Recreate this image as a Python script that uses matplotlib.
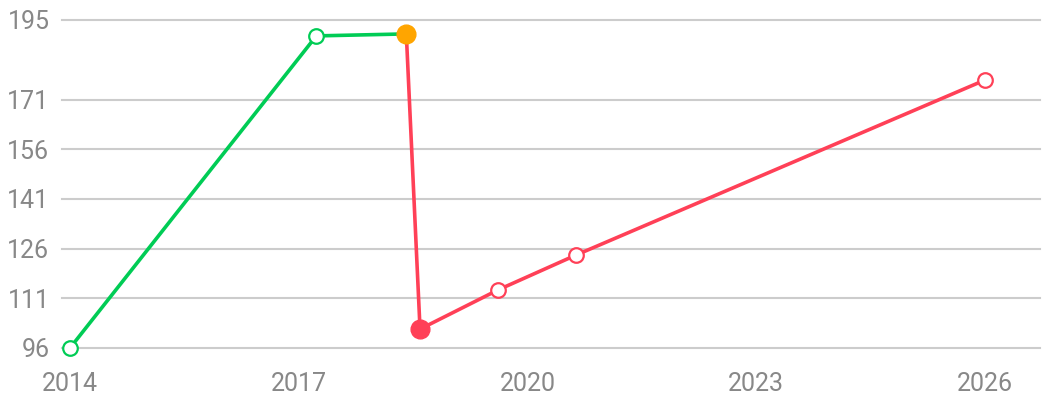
import matplotlib
matplotlib.use('Agg')
import matplotlib.pyplot as plt

plt.rcParams['font.family'] = ['Roboto', 'DejaVu Sans']

# ── Data (decimal years) ──
green_x = [2014.0, 2017.23, 2018.41]
green_y = [96, 190.2, 190.8]
red_x = [2018.41, 2018.59, 2019.61, 2020.64, 2026.0]
red_y = [190.8, 101.7, 113.5, 124.1, 176.9]

x_ticks = [2014, 2017, 2020, 2023, 2026]
y_ticks = [96, 111, 126, 141, 156, 171, 195]

GREEN = '#00cc55'
RED = '#ff4057'
ORANGE = '#ffa500'
GRID = '#cccccc'
TEXT = '#888888'

fig = plt.figure(figsize=(10.42, 4.0), dpi=100)
ax = fig.add_axes([0.0595, 0.13, 0.9386, 0.82])

for yv in y_ticks:
    ax.axhline(yv, color=GRID, lw=1.5, zorder=1)

ax.plot(red_x, red_y, color=RED, lw=2.6, zorder=3, solid_capstyle='round')
ax.plot(green_x, green_y, color=GREEN, lw=2.6, zorder=3, solid_capstyle='round')

# open markers
ax.plot(green_x[:2], green_y[:2], 'o', ms=10.5, mfc='white', mec=GREEN, mew=1.6, zorder=4)
ax.plot(red_x[2:], red_y[2:], 'o', ms=10.5, mfc='white', mec=RED, mew=1.6, zorder=4)
# highlighted markers
ax.plot(red_x[1], red_y[1], 'o', ms=13.5, color=RED, zorder=5)
ax.plot(green_x[2], green_y[2], 'o', ms=13.5, color=ORANGE, zorder=5)

ax.set_xlim(2013.895, 2026.72)
ax.set_ylim(96, 195)
ax.set_xticks(x_ticks)
ax.set_xticklabels([str(t) for t in x_ticks])
ax.set_yticks(y_ticks)
ax.set_yticklabels([str(t) for t in y_ticks])
ax.tick_params(axis='both', length=0, labelsize=18, colors=TEXT)
ax.tick_params(axis='y', pad=9)
ax.tick_params(axis='x', pad=17)
for s in ax.spines.values():
    s.set_visible(False)
for line in ax.lines:
    line.set_clip_on(False)

fig.savefig('out.png', dpi=100, facecolor='white')
